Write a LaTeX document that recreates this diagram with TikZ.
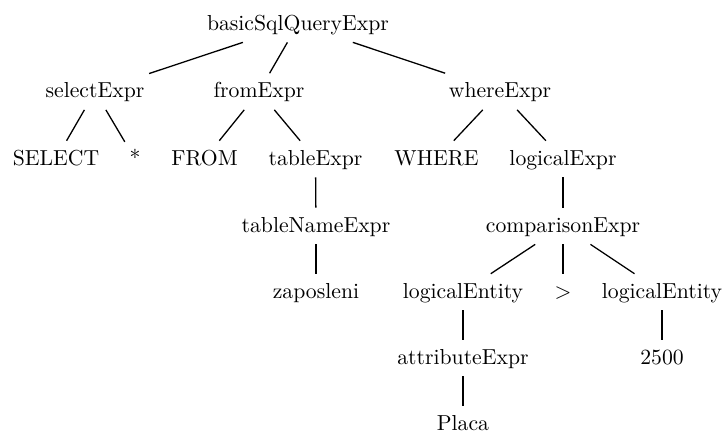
\documentclass[tikz,border=0pt]{standalone}
\begin{document}
\begin{tikzpicture}[
  x=0.461pt, y=-0.461pt,
  tn/.style={anchor=base, inner xsep=2pt, inner ysep=3.5pt,
             text height=7.5pt, text depth=2pt},
  edge/.style={line width=0.6pt}
]
\useasboundingbox (0,0) rectangle (723,432);

% row baselines
\def\rA{30}\def\rB{97.5}\def\rC{165}\def\rD{232}\def\rE{298}\def\rF{364}\def\rG{430}

\node[tn] (root)   at (298,\rA) {basicSqlQueryExpr};

\node[tn] (sel)    at (95,\rB)  {selectExpr};
\node[tn] (from)   at (259,\rB) {fromExpr};
\node[tn] (where)  at (500,\rB) {whereExpr};

\node[tn] (kwsel)  at (56,\rC)  {SELECT};
\node[tn] (star)   at (135,\rC) {*};
\node[tn] (kwfrom) at (204.5,\rC) {FROM};
\node[tn] (tab)    at (315.5,\rC) {tableExpr};
\node[tn] (kwwhere) at (436.5,\rC) {WHERE};
\node[tn] (logic)  at (563,\rC) {logicalExpr};

\node[tn] (tname)  at (316,\rD) {tableNameExpr};
\node[tn] (cmp)    at (563,\rD) {comparisonExpr};

\node[tn] (zap)    at (316,\rE) {zaposleni};
\node[tn] (entL)   at (463,\rE) {logicalEntity};
\node[tn] (gt)     at (563,\rE) {>};
\node[tn] (entR)   at (662,\rE) {logicalEntity};

\node[tn] (attr)   at (463,\rF) {attributeExpr};
\node[tn] (num)    at (662,\rF) {2500};

\node[tn] (placa)  at (463,\rG) {Placa};

\draw[edge] (root) -- (sel);
\draw[edge] (root) -- (from);
\draw[edge] (root) -- (where);
\draw[edge] (sel) -- (kwsel);
\draw[edge] (sel) -- (star);
\draw[edge] (from) -- (kwfrom);
\draw[edge] (from) -- (tab);
\draw[edge] (where) -- (kwwhere);
\draw[edge] (where) -- (logic);
\draw[edge] (tab) -- (tname);
\draw[edge] (tname) -- (zap);
\draw[edge] (logic) -- (cmp);
\draw[edge] (cmp) -- (entL);
\draw[edge] (cmp) -- (gt);
\draw[edge] (cmp) -- (entR);
\draw[edge] (entL) -- (attr);
\draw[edge] (attr) -- (placa);
\draw[edge] (entR) -- (num);
\end{tikzpicture}
\end{document}
